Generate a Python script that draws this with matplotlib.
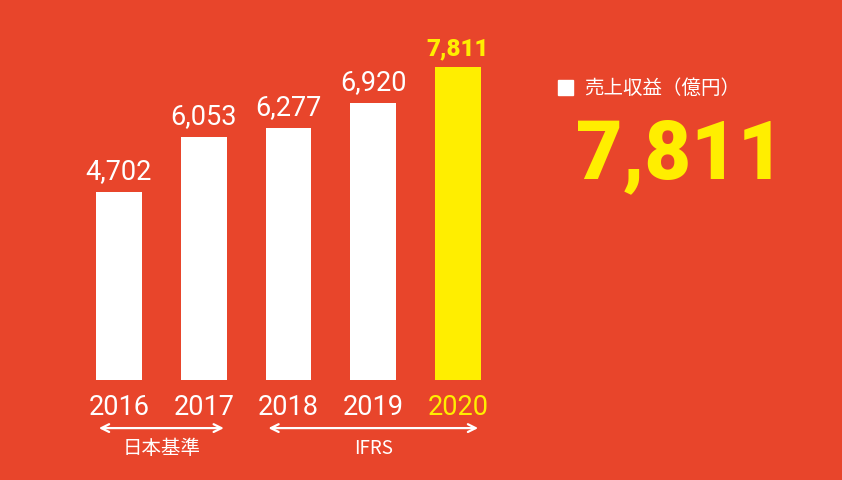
import matplotlib
matplotlib.use("Agg")
import matplotlib.pyplot as plt
import numpy as np

# データ
years = ["2016", "2017", "2018", "2019", "2020"]
revenue = [4702, 6053, 6277, 6920, 7811]
labels = ["4,702", "6,053", "6,277", "6,920", "7,811"]
legend_text = "売上収益（億円）"
highlight = "7,811"

BG = "#E8452B"
YEL = "#FFEE00"
NUM_FONT = ["Roboto", "DejaVu Sans"]
JP_FONT = ["Noto Sans CJK JP", "DejaVu Sans"]

W, H = 842, 480
fig = plt.figure(figsize=(W / 100, H / 100), dpi=100)
fig.patch.set_facecolor(BG)

# 棒グラフ領域（ピクセルから図座標へ）
ax = fig.add_axes([76.6 / W, 100 / H, 423.8 / W, 320.6 / H])
ax.set_facecolor("none")
ax.set_xlim(-0.5, len(years) - 0.5)
ax.set_ylim(0, 8000)
ax.axis("off")

x = np.arange(len(years))
colors = ["white"] * (len(years) - 1) + [YEL]
ax.bar(x, revenue, width=0.54, color=colors, linewidth=0)

for i, (v, lab) in enumerate(zip(revenue, labels)):
    last = i == len(years) - 1
    ax.annotate(lab, (i, v), xytext=(0, 5), textcoords="offset points",
                ha="center", va="bottom",
                fontsize=17.5 if last else 19.5,
                fontweight="heavy" if last else "normal",
                color=YEL if last else "white", family=NUM_FONT)
    ax.annotate(years[i], (i, 0), xytext=(0, -10), textcoords="offset points",
                ha="center", va="top", fontsize=19.5, fontweight="normal",
                color=YEL if last else "white", family=NUM_FONT)

# 会計基準の矢印
arrow_y = -1200
ax.annotate("", xy=(-0.27, arrow_y), xytext=(1.27, arrow_y),
            arrowprops=dict(arrowstyle="<->", color="white", lw=1.6,
                            mutation_scale=14), annotation_clip=False)
ax.annotate("", xy=(1.73, arrow_y), xytext=(4.27, arrow_y),
            arrowprops=dict(arrowstyle="<->", color="white", lw=1.6,
                            mutation_scale=14), annotation_clip=False)
ax.text(0.5, -1720, "日本基準", ha="center", va="center", fontsize=14,
        color="white", family=JP_FONT)
ax.text(3.0, -1720, "IFRS", ha="center", va="center", fontsize=13.5,
        color="white", family=JP_FONT)

# 凡例と強調値
fig.patches.append(plt.Rectangle((558 / W, 1 - 95 / H), 15 / W, 15 / H,
                                 transform=fig.transFigure, color="white"))
fig.text(584 / W, 1 - 88 / H, legend_text, ha="left", va="center",
         fontsize=14, color="white", family=JP_FONT)
fig.text(680 / W, 1 - 156 / H, highlight, ha="center", va="center",
         fontsize=58, fontweight="heavy", color=YEL, family=NUM_FONT)

fig.savefig("out.png", dpi=100, facecolor=BG)
